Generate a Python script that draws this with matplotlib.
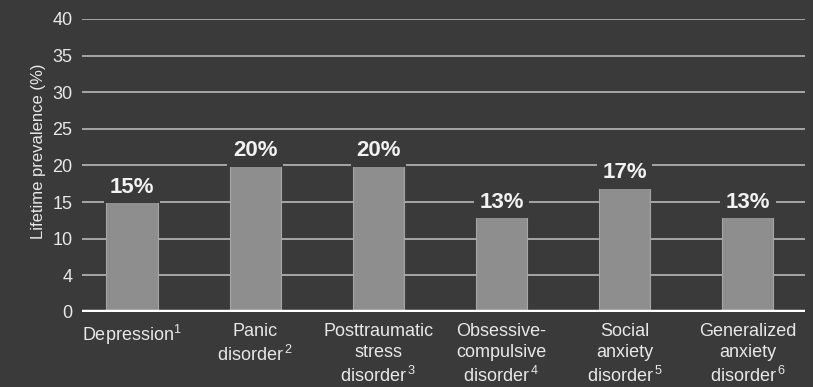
import matplotlib
matplotlib.use("Agg")
import matplotlib.pyplot as plt

plt.rcParams['font.family'] = ['Liberation Sans', 'DejaVu Sans']
plt.rcParams['mathtext.fontset'] = 'custom'
plt.rcParams['mathtext.rm'] = 'Liberation Sans'
plt.rcParams['mathtext.it'] = 'Liberation Sans'

categories = [
    "Depression$^{1}$",
    "Panic\ndisorder$\\,^{2}$",
    "Posttraumatic\nstress\ndisorder$\\,^{3}$",
    "Obsessive-\ncompulsive\ndisorder$\\,^{4}$",
    "Social\nanxiety\ndisorder$\\,^{5}$",
    "Generalized\nanxiety\ndisorder$\\,^{6}$",
]
prevalence = [15, 20, 20, 13, 17, 13]
value_labels = ["15%", "20%", "20%", "13%", "17%", "13%"]
ytick_values = [0, 5, 10, 15, 20, 25, 30, 35, 40]
ytick_labels = ["0", "4", "10", "15", "20", "25", "30", "35", "40"]

bg = "#3a3a3a"
bar_color = "#8e8e8e"
grid_color = "#c4c4c4"
text_color = "#e8e8e8"

fig = plt.figure(figsize=(8.13, 3.87), dpi=100, facecolor=bg)
ax = fig.add_axes([0.1009, 0.194, 0.889, 0.757], facecolor=bg)

x = list(range(len(categories)))
ax.bar(x, prevalence, width=0.415, color=bar_color, edgecolor="#a6a6a6",
       linewidth=0.8, zorder=3)

for xi, v, lab in zip(x, prevalence, value_labels):
    ax.annotate(lab, (xi, v), xytext=(0, 3), textcoords="offset points",
                ha="center", va="bottom", fontsize=16, fontweight="bold",
                color="#f2f2f2", zorder=5,
                bbox=dict(boxstyle="square,pad=0.25", fc=bg, ec="none"))

ax.set_xlim(-0.406, len(categories) - 1 + 0.463)
ax.set_ylim(0, 40)
ax.set_yticks(ytick_values)
ax.set_yticklabels(ytick_labels)
ax.set_xticks(x)
ax.set_xticklabels(categories, linespacing=1.3)

for yv in ytick_values[1:]:
    ax.axhline(yv, color=grid_color, linewidth=1.1, zorder=1)
ax.axhline(0, color="white", linewidth=3.2, zorder=4)

for s in ax.spines.values():
    s.set_visible(False)
ax.tick_params(axis="both", length=0, colors=text_color, labelsize=13)
ax.tick_params(axis="y", pad=7)
ax.tick_params(axis="x", pad=8)

ax.set_ylabel("Lifetime prevalence (%)", color=text_color, fontsize=12)
ax.yaxis.set_label_coords(-0.05, 0.55)

fig.savefig("out.png", dpi=100, facecolor=bg)
